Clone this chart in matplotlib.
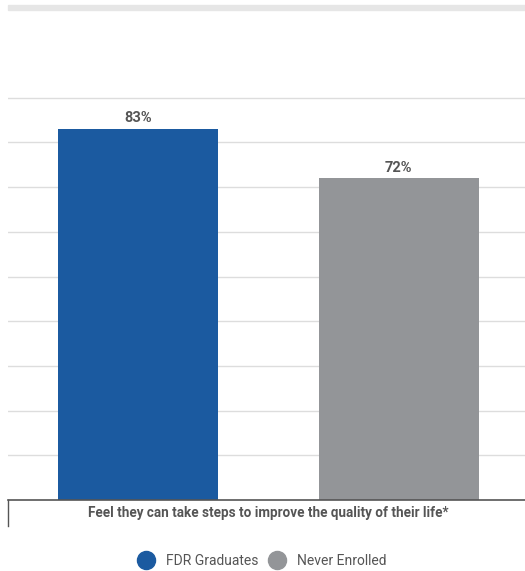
"""Grouped bar chart: share who feel they can improve their quality of life."""

import matplotlib.pyplot as plt
from matplotlib.lines import Line2D
from matplotlib.patches import Rectangle

plt.rcParams['font.family'] = ['Roboto', 'DejaVu Sans']

category = "Feel they can take steps to improve the quality of their life*"
groups = ["FDR Graduates", "Never Enrolled"]
values = [83, 72]
colors = ["#1b5aa0", "#939598"]
text_color = "#555555"

fig = plt.figure(figsize=(5.25, 5.71), dpi=100)
ax = fig.add_axes([8 / 525, 1 - 500 / 571, 517 / 525, (500 - 53) / 571])

# header strip across the top
fig.patches.append(Rectangle((8 / 525, 1 - 10 / 571), 1, 5 / 571,
                             transform=fig.transFigure, color="#e6e6e6", zorder=0))

offsets = [-0.252, 0.252]
for off, val, col in zip(offsets, values, colors):
    ax.bar(0.504 + off, val, width=0.31, color=col, zorder=3)
    ax.text(0.504 + off, val + 0.8, f"{val}%", ha="center", va="bottom",
            fontsize=10.5, color=text_color, fontweight="bold")

ax.set_xlim(0, 1)
ax.set_ylim(0, 100)
ax.set_yticks(range(10, 100, 10))
ax.yaxis.grid(True, color="#dddddd", linewidth=1)
ax.tick_params(left=False, labelleft=False, bottom=False, labelbottom=False)
for side in ["top", "right", "left"]:
    ax.spines[side].set_visible(False)
ax.spines["bottom"].set_color("#555555")
ax.spines["bottom"].set_linewidth(1.2)
ax.spines["bottom"].set_zorder(4)

# category divider tick below the baseline
fig.add_artist(Line2D([8 / 525, 8 / 525], [1 - 500 / 571, 1 - 526 / 571],
                      transform=fig.transFigure, color="#555555", linewidth=1))
fig.text(0.510, 1 - 513 / 571, category, ha="center", va="center",
         fontsize=9.75, color=text_color, fontweight="bold")

handles = [Line2D([], [], marker="o", linestyle="", markersize=13,
                  markerfacecolor=c, markeredgecolor=c) for c in colors]
fig.legend(handles, groups, loc="center", bbox_to_anchor=(0.494, 1 - 561 / 571),
           ncol=2, frameon=False, handletextpad=0.45,
           columnspacing=0.35, labelcolor=text_color,
           prop={"family": ["Roboto", "DejaVu Sans"], "size": 10})

fig.savefig("out.png", dpi=100)
